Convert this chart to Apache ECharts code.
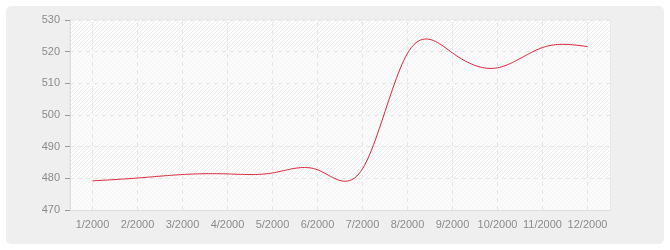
<!DOCTYPE html>
<html><head><meta charset="utf-8">
<script src="https://cdn.jsdelivr.net/npm/echarts@6/dist/echarts.min.js"></script>
<style>html,body{margin:0;padding:0;background:#fff}#c{width:670px;height:250px}</style>
</head><body><div id="c"></div><script>
// ---- data ----
const categories = ['1/2000','2/2000','3/2000','4/2000','5/2000','6/2000','7/2000','8/2000','9/2000','10/2000','11/2000','12/2000'];
const values = [479.2, 480.1, 481.2, 481.4, 481.7, 482.7, 483.0, 519.5, 519.6, 514.9, 521.3, 521.6];
const yMin = 470, yMax = 530, yInterval = 10;

function makePattern(bg, line, s) {
  const c = document.createElement('canvas');
  c.width = s; c.height = s;
  const ctx = c.getContext('2d');
  ctx.fillStyle = bg; ctx.fillRect(0, 0, s, s);
  ctx.strokeStyle = line; ctx.lineWidth = 1;
  ctx.beginPath();
  ctx.moveTo(-1, s + 1); ctx.lineTo(s + 1, -1);
  ctx.moveTo(-1, 1); ctx.lineTo(1, -1);
  ctx.moveTo(s - 1, s + 1); ctx.lineTo(s + 1, s - 1);
  ctx.stroke();
  return { image: c, repeat: 'repeat' };
}
const patLight = makePattern('#fbfbfb', '#f4f4f4', 4);
const patHatch = makePattern('#fdfdfd', '#ececec', 4);

// natural cubic spline through pixel points (uniform x)
function splinePoints(pts, steps) {
  const n = pts.length;
  const h = pts[1][0] - pts[0][0];
  const y = pts.map(p => p[1]);
  const M = new Array(n).fill(0);
  const m = n - 2;
  const a = [], b = [], c = [], d = [];
  for (let i = 1; i <= m; i++) {
    a.push(1); b.push(4); c.push(1);
    d.push(6 * (y[i + 1] - 2 * y[i] + y[i - 1]) / (h * h));
  }
  for (let i = 1; i < m; i++) {
    const w = a[i] / b[i - 1];
    b[i] -= w * c[i - 1];
    d[i] -= w * d[i - 1];
  }
  const sol = new Array(m);
  sol[m - 1] = d[m - 1] / b[m - 1];
  for (let i = m - 2; i >= 0; i--) sol[i] = (d[i] - c[i] * sol[i + 1]) / b[i];
  for (let i = 0; i < m; i++) M[i + 1] = sol[i];
  const out = [];
  for (let i = 0; i < n - 1; i++) {
    const x0 = pts[i][0], x1 = pts[i + 1][0];
    for (let k = 0; k < steps; k++) {
      const x = x0 + (x1 - x0) * k / steps;
      const A = x1 - x, B = x - x0;
      const s = M[i] * A * A * A / (6 * h) + M[i + 1] * B * B * B / (6 * h)
        + (y[i] / h - M[i] * h / 6) * A + (y[i + 1] / h - M[i + 1] * h / 6) * B;
      out.push([x, s]);
    }
  }
  out.push(pts[n - 1].slice());
  return out;
}

const font = '"Liberation Sans", Arial, sans-serif';
const chart = echarts.init(document.getElementById('c'), null, { renderer: 'canvas' });
chart.setOption({
  animation: false,
  backgroundColor: 'transparent',
  graphic: [{
    type: 'rect', z: -10, silent: true,
    shape: { x: 6, y: 6, width: 658, height: 238, r: 5 },
    style: { fill: '#efefef' }
  }],
  grid: { left: 70, right: 60, top: 20, bottom: 40, show: true, backgroundColor: '#fff', borderColor: '#e2e2e2', borderWidth: 1 },
  xAxis: {
    type: 'category', data: categories, boundaryGap: true,
    axisLine: { lineStyle: { color: '#dddddd' } },
    axisTick: { alignWithLabel: true, length: 5, lineStyle: { color: '#9a9a9a' } },
    axisLabel: { color: '#8c8c8c', fontSize: 11, margin: 9, fontFamily: font, interval: 0 },
    splitLine: { show: false }
  },
  yAxis: {
    type: 'value', min: yMin, max: yMax, interval: yInterval,
    axisLine: { show: true, lineStyle: { color: '#dddddd' } },
    axisTick: { show: true, length: 5, lineStyle: { color: '#9a9a9a' } },
    axisLabel: { color: '#8c8c8c', fontSize: 11, margin: 10, fontFamily: font },
    splitLine: { lineStyle: { color: '#e6e6e6', type: [4, 4], width: 1 } },
    splitArea: { show: true, areaStyle: { color: [patLight, patHatch] } }
  },
  series: [
    {
      type: 'line', data: values, symbol: 'none', silent: true,
      lineStyle: { opacity: 0 }, z: 1,
      markLine: {
        silent: true, symbol: ['none', 'none'], label: { show: false },
        lineStyle: { color: '#e6e6e6', type: [4, 4], width: 1 },
        emphasis: { disabled: true },
        data: categories.map(c => ({ xAxis: c }))
      }
    },
    {
      type: 'custom', z: 5, silent: true,
      data: values.map((v, i) => [i, v]),
      encode: { x: 0, y: 1 },
      renderItem: function (params, api) {
        if (params.dataIndex !== 0) return null;
        const pts = values.map((v, i) => api.coord([i, v]));
        return {
          type: 'polyline',
          shape: { points: splinePoints(pts, 24) },
          style: { stroke: '#d7263b', lineWidth: 1, fill: 'none' }
        };
      }
    }
  ]
});
</script></body></html>
